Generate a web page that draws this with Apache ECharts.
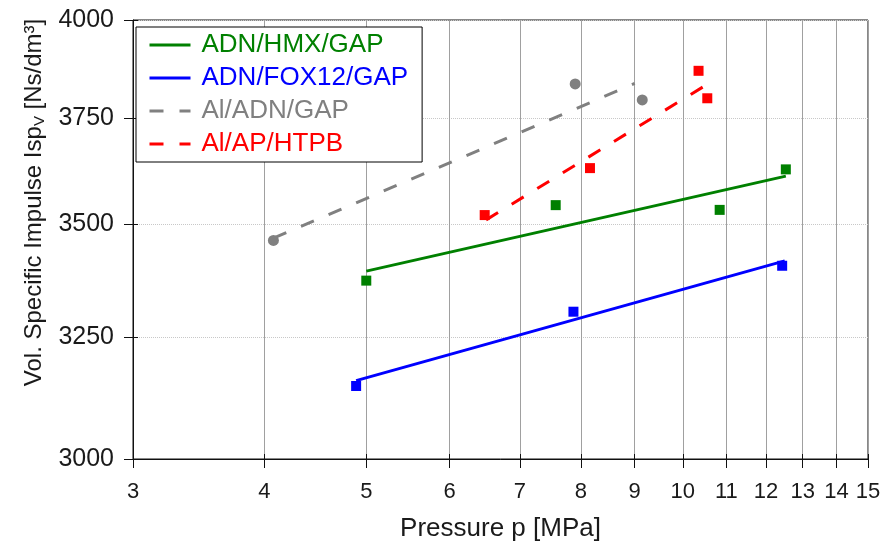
<!DOCTYPE html>
<html>
<head>
<meta charset="utf-8">
<script src="https://cdn.jsdelivr.net/npm/echarts@6/dist/echarts.min.js"></script>
<style>
  html, body { margin: 0; padding: 0; background: #fff; }
  #chartView { width: 884px; height: 547px; }
</style>
</head>
<body>
<div id="chartView"></div>
<script>
// measured points
var hmxP = [5.0, 7.57, 10.84, 12.53];
var hmxIsp = [3372, 3543, 3532, 3627];
var foxP = [4.89, 7.87, 12.43];
var foxIsp = [3147, 3304, 3405];
var alAdnP = [4.08, 7.9, 9.15];
var alAdnIsp = [3462, 3836, 3796];
var alApP = [6.48, 8.16, 10.35, 10.55];
var alApIsp = [3520, 3630, 3869, 3800];

// fitted trend lines (end points)
var hmxFitP = [5.0, 12.53];
var hmxFitIsp = [3393, 3611];
var foxFitP = [4.89, 12.5];
var foxFitIsp = [3158, 3416];
var alAdnFitP = [4.08, 9.0];
var alAdnFitIsp = [3467, 3837];
var alApFitP = [6.5, 10.55];
var alApFitIsp = [3509, 3835];

var names = ['ADN/HMX/GAP', 'ADN/FOX12/GAP', 'Al/ADN/GAP', 'Al/AP/HTPB'];
var colors = ['#008000', '#0000ff', '#808080', '#ff0000'];

var xTicks = [3, 4, 5, 6, 7, 8, 9, 10, 11, 12, 13, 14, 15];
var yTicks = [3000, 3250, 3500, 3750, 4000];

function pairs(xs, ys) {
    var out = [];
    for (var i = 0; i < xs.length; i++) out.push([xs[i], ys[i]]);
    return out;
}

var myChart = echarts.init(document.getElementById('chartView'));

var axisFont = 'Liberation Sans, Arial, sans-serif';

var options = {
    animation: false,
    textStyle: { fontFamily: axisFont },
    grid: {
        left: 133, right: 16, top: 20, bottom: 88,
        show: true, borderColor: '#111', borderWidth: 1
    },
    legend: {
        orient: 'vertical',
        left: 136, top: 27,
        padding: [5, 14, 5, 12],
        itemGap: 7,
        itemWidth: 41,
        itemHeight: 14,
        borderColor: '#000',
        borderWidth: 1,
        backgroundColor: '#fff',
        itemStyle: { opacity: 0, borderWidth: 0 },
        lineStyle: { width: 3 },
        textStyle: { fontSize: 26, fontFamily: axisFont, padding: [0, 0, 0, 6] },
        data: names.map(function (n, i) {
            return { name: n, textStyle: { color: colors[i] } };
        })
    },
    xAxis: [
        {
            type: 'log', min: 3, max: 15,
            name: 'Pressure p [MPa]',
            nameLocation: 'middle',
            nameGap: 57,
            nameTextStyle: { fontSize: 26, color: '#1a1a1a' },
            axisLine: { show: true, lineStyle: { color: '#111' } },
            axisTick: { show: true, inside: false, length: 9, lineStyle: { color: '#111' }, customValues: xTicks },
            axisLabel: { fontSize: 22, color: '#1a1a1a', margin: 22, customValues: xTicks },
            splitLine: { show: true, lineStyle: { color: '#a0a0a0', width: 1 } },
            minorTick: { show: false }
        },
        {
            type: 'log', min: 3, max: 15,
            position: 'bottom',
            axisLine: { show: false },
            axisTick: { show: true, inside: true, length: 5, lineStyle: { color: '#111' }, customValues: xTicks },
            axisLabel: { show: false, customValues: xTicks },
            splitLine: { show: false }
        }
    ],
    yAxis: [
        {
            type: 'log', min: 3000, max: 4000,
            name: 'Vol. Specific Impulse Isp{sub|V} [Ns/dm³]',
            nameLocation: 'middle',
            nameGap: 85,
            nameTextStyle: {
                fontSize: 24, color: '#1a1a1a',
                padding: [0, 0, 0, 74],
                rich: {
                    sub: { fontSize: 15, color: '#1a1a1a', verticalAlign: 'bottom', padding: [11, 0, 0, 0] }
                }
            },
            axisLine: { show: true, lineStyle: { color: '#111' } },
            axisTick: { show: true, inside: false, length: 9, lineStyle: { color: '#111' }, customValues: yTicks },
            axisLabel: {
                fontSize: 25, color: '#1a1a1a', margin: 19, customValues: yTicks,
                formatter: function (v) { return String(Math.round(v)); }
            },
            splitLine: { show: true, lineStyle: { color: '#c8c8c8', type: 'dotted', width: 1 } }
        },
        {
            type: 'log', min: 3000, max: 4000,
            position: 'left',
            axisLine: { show: false },
            axisTick: { show: true, inside: true, length: 5, lineStyle: { color: '#111' }, customValues: yTicks },
            axisLabel: { show: false, customValues: yTicks },
            splitLine: { show: false }
        }
    ],
    series: [
        // trend lines (these are in the legend)
        {
            name: names[0], type: 'line', symbol: 'none', z: 3,
            data: pairs(hmxFitP, hmxFitIsp),
            lineStyle: { color: colors[0], width: 3 }, itemStyle: { color: colors[0] }
        },
        {
            name: names[1], type: 'line', symbol: 'none', z: 3,
            data: pairs(foxFitP, foxFitIsp),
            lineStyle: { color: colors[1], width: 3 }, itemStyle: { color: colors[1] }
        },
        {
            name: names[2], type: 'line', symbol: 'none', z: 3,
            data: pairs(alAdnFitP, alAdnFitIsp),
            lineStyle: { color: colors[2], width: 3, type: [14, 16] }, itemStyle: { color: colors[2] }
        },
        {
            name: names[3], type: 'line', symbol: 'none', z: 3,
            data: pairs(alApFitP, alApFitIsp),
            lineStyle: { color: colors[3], width: 3, type: [14, 16] }, itemStyle: { color: colors[3] }
        },
        // measured points
        {
            name: 'pts0', type: 'scatter', symbol: 'rect', symbolSize: 10, z: 2,
            data: pairs(hmxP, hmxIsp), itemStyle: { color: colors[0], opacity: 1 }
        },
        {
            name: 'pts1', type: 'scatter', symbol: 'rect', symbolSize: 10, z: 2,
            data: pairs(foxP, foxIsp), itemStyle: { color: colors[1], opacity: 1 }
        },
        {
            name: 'pts2', type: 'scatter', symbol: 'circle', symbolSize: 11, z: 2,
            data: pairs(alAdnP, alAdnIsp), itemStyle: { color: colors[2], opacity: 1 }
        },
        {
            name: 'pts3', type: 'scatter', symbol: 'rect', symbolSize: 10, z: 2,
            data: pairs(alApP, alApIsp), itemStyle: { color: colors[3], opacity: 1 }
        }
    ]
};

myChart.setOption(options);
</script>
</body>
</html>
